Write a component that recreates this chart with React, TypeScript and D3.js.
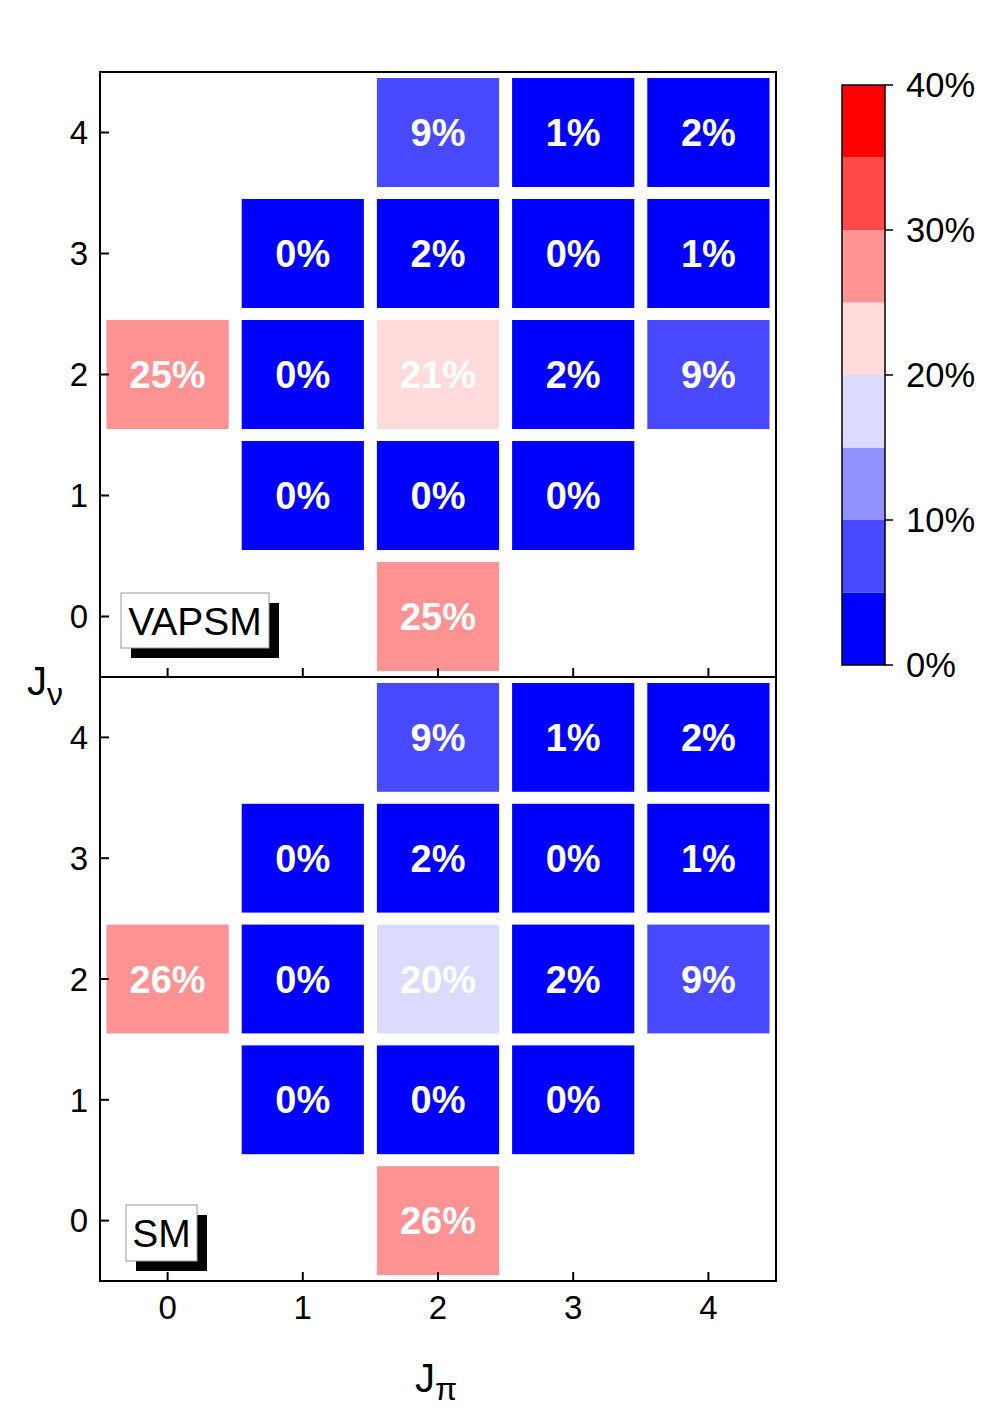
import React from "react";
import * as d3 from "d3";

const jpi = [0, 1, 2, 3, 4];
const jnu = [0, 1, 2, 3, 4];
// [Jnu, Jpi, percent]
const vapsmCells: [number, number, number][] = [
  [4, 2, 9.0], [4, 3, 1.0], [4, 4, 2.0],
  [3, 1, 0.2], [3, 2, 2.0], [3, 3, 0.3], [3, 4, 1.0],
  [2, 0, 25.2], [2, 1, 0.2], [2, 2, 21.0], [2, 3, 2.0], [2, 4, 9.0],
  [1, 1, 0.1], [1, 2, 0.2], [1, 3, 0.1],
  [0, 2, 25.2],
];
const smCells: [number, number, number][] = [
  [4, 2, 9.0], [4, 3, 1.0], [4, 4, 2.0],
  [3, 1, 0.2], [3, 2, 2.0], [3, 3, 0.3], [3, 4, 1.0],
  [2, 0, 26.0], [2, 1, 0.2], [2, 2, 19.8], [2, 3, 2.0], [2, 4, 9.0],
  [1, 1, 0.1], [1, 2, 0.2], [1, 3, 0.1],
  [0, 2, 26.0],
];
const binEdges = [0, 5, 10, 15, 20, 25, 30, 35, 40];
const binColors = ["#0000ff", "#4949ff", "#9292ff", "#dbdbff", "#ffdbdb", "#ff9292", "#ff4949", "#ff0000"];
const cbTicks = [0, 10, 20, 30, 40];

const FONT = "'Liberation Sans', Arial, Helvetica, sans-serif";

const left = 100, right = 776;
const panels = [
  { name: "VAPSM", cells: vapsmCells, top: 72, bottom: 677, box: { x: 121, y: 593, w: 148, h: 55 } },
  { name: "SM", cells: smCells, top: 677, bottom: 1281, box: { x: 126, y: 1205, w: 71, h: 56 } },
];

export default function App() {
  const x = d3.scaleLinear().domain([-0.5, 4.5]).range([left, right]);
  const color = d3.scaleThreshold<number, string>().domain(binEdges.slice(1, -1)).range(binColors);
  const cw = x(1) - x(0);
  const cb = d3.scaleLinear().domain([0, 40]).range([665, 85]);
  const cbX = 842, cbW = 43;

  return (
    <svg width={996} height={1424} style={{ position: "absolute", left: 0, top: 0, background: "#fff" }} fontFamily={FONT}>
      {panels.map((p, pi) => {
        const y = d3.scaleLinear().domain([-0.5, 4.5]).range([p.bottom, p.top]);
        const ch = y(0) - y(1);
        return (
          <g key={p.name}>
            {p.cells.map(([nu, pis, v], i) => (
              <g key={i}>
                <rect x={x(pis) - cw / 2 + 6.5} y={y(nu) - ch / 2 + 6} width={cw - 13} height={ch - 12} fill={color(v)} />
                <text x={x(pis)} y={y(nu)} dy="0.36em" textAnchor="middle" fill="#fff" fontWeight="bold" fontSize={38}>
                  {Math.round(v)}%
                </text>
              </g>
            ))}
            {jpi.map((t) => (
              <line key={"xt" + t} x1={x(t)} x2={x(t)} y1={p.bottom} y2={p.bottom - 9} stroke="#000" strokeWidth={2} />
            ))}
            {jnu.map((t) => (
              <g key={"yt" + t}>
                <line x1={left} x2={left + 9} y1={y(t)} y2={y(t)} stroke="#000" strokeWidth={2} />
                <text x={left - 12} y={y(t)} dy="0.36em" textAnchor="end" fontSize={33}>{t}</text>
              </g>
            ))}
            {pi === 1 &&
              jpi.map((t) => (
                <text key={"xl" + t} x={x(t)} y={p.bottom + 14} dy="0.73em" textAnchor="middle" fontSize={33}>{t}</text>
              ))}
            <rect x={p.box.x + 10} y={p.box.y + 10} width={p.box.w} height={p.box.h} fill="#000" />
            <rect x={p.box.x} y={p.box.y} width={p.box.w} height={p.box.h} fill="#fff" stroke="#999" strokeWidth={1} />
            <text x={p.box.x + p.box.w / 2} y={p.box.y + p.box.h / 2} dy="0.36em" textAnchor="middle" fontSize={39}>{p.name}</text>
            <rect x={left} y={p.top} width={right - left} height={p.bottom - p.top} fill="none" stroke="#000" strokeWidth={2} />
          </g>
        );
      })}
      <text x={27} y={695} fontSize={40}>J<tspan fontSize={32} dy={10}>ν</tspan></text>
      <text x={415} y={1392} fontSize={40}>J<tspan fontSize={32} dy={8}>π</tspan></text>
      {binColors.map((c, i) => (
        <rect key={c} x={cbX} y={cb(binEdges[i + 1])} width={cbW} height={cb(binEdges[i]) - cb(binEdges[i + 1])} fill={c} />
      ))}
      <rect x={cbX} y={cb(40)} width={cbW} height={cb(0) - cb(40)} fill="none" stroke="#000" strokeWidth={1.5} />
      {cbTicks.map((t) => (
        <g key={t}>
          <line x1={cbX + cbW} x2={cbX + cbW + 8} y1={cb(t)} y2={cb(t)} stroke="#000" strokeWidth={1.5} />
          <text x={cbX + cbW + 21} y={cb(t)} dy="0.36em" fontSize={34.5}>{t}%</text>
        </g>
      ))}
    </svg>
  );
}
